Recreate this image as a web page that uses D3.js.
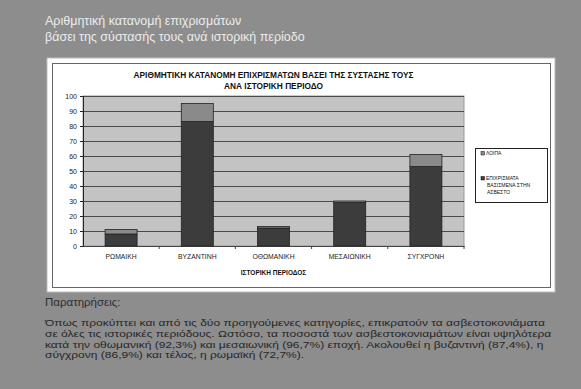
<!DOCTYPE html>
<html><head><meta charset="utf-8">
<script src="https://cdn.jsdelivr.net/npm/d3@7"></script>
<style>body{margin:0;background:#8d8d8d;}svg{display:block;}</style>
</head><body>
<svg id="c" width="581" height="389"></svg>
<script>
const categories = ["ΡΩΜΑΙΚΗ","ΒΥΖΑΝΤΙΝΗ","ΟΘΩΜΑΝΙΚΗ","ΜΕΣΑΙΩΝΙΚΗ","ΣΥΓΧΡΟΝΗ"];
const limeBased = [8, 83, 12, 29, 53];   // ΕΠΙΧΡΙΣΜΑΤΑ ΒΑΣΙΣΜΕΝΑ ΣΤΗΝ ΑΣΒΕΣΤΟ
const others    = [3, 12, 1, 1, 8];      // ΛΟΙΠΑ
const yTicks = [0,10,20,30,40,50,60,70,80,90,100];
const seriesNames = ["ΛΟΙΠΑ", "ΕΠΙΧΡΙΣΜΑΤΑ ΒΑΣΙΣΜΕΝΑ ΣΤΗΝ ΑΣΒΕΣΤΟ"];
const slideTitle = ["Αριθμητική κατανομή επιχρισμάτων","βάσει της σύστασής τους ανά ιστορική περίοδο"];
const chartTitle = ["ΑΡΙΘΜΗΤΙΚΗ ΚΑΤΑΝΟΜΗ ΕΠΙΧΡΙΣΜΑΤΩΝ ΒΑΣΕΙ ΤΗΣ ΣΥΣΤΑΣΗΣ ΤΟΥΣ","ΑΝΑ ΙΣΤΟΡΙΚΗ ΠΕΡΙΟΔΟ"];
const xTitle = "ΙΣΤΟΡΙΚΗ ΠΕΡΙΟΔΟΣ";
const notesTitle = "Παρατηρήσεις:";
const notes = [
 "Όπως προκύπτει και από τις δύο προηγούμενες κατηγορίες, επικρατούν τα ασβεστοκονιάματα",
 "σε όλες τις ιστορικές περιόδους. Ωστόσο, τα ποσοστά των ασβεστοκονιαμάτων είναι υψηλότερα",
 "κατά την οθωμανική (92,3%) και μεσαιωνική (96,7%) εποχή. Ακολουθεί η βυζαντινή (87,4%), η",
 "σύγχρονη (86,9%) και τέλος, η ρωμαϊκή (72,7%)."
];

const svg = d3.select("#c");
const F = "'Liberation Sans', Arial, sans-serif";

// slide title
svg.selectAll("text.st").data(slideTitle).join("text")
  .attr("x", 45).attr("y", (d,i)=>25+i*16)
  .attr("font-family", F).attr("font-size", 12.5).attr("fill", "#ececec")
  .text(d=>d);

// panel
svg.append("rect").attr("x",47).attr("y",58).attr("width",508).attr("height",234)
  .attr("fill","#fff").attr("stroke","#bbb").attr("stroke-width",1);
svg.append("rect").attr("x",52.5).attr("y",63.5).attr("width",498).attr("height",224)
  .attr("fill","none").attr("stroke","#666").attr("stroke-width",1);

const m = {l:83, r:464, t:96, b:246};
const x = d3.scaleBand().domain(categories).range([m.l, m.r]).paddingInner(0.58).paddingOuter(0.29);
const xb = d3.scaleBand().domain(categories).range([m.l, m.r]);
const y = d3.scaleLinear().domain([0,100]).range([m.b, m.t]);

// plot area
svg.append("rect").attr("x",m.l).attr("y",m.t).attr("width",m.r-m.l).attr("height",m.b-m.t)
  .attr("fill","#c3c3c3").attr("stroke","#999");

// gridlines
svg.append("g").selectAll("line").data(yTicks.filter(v=>v>0)).join("line")
  .attr("x1",m.l).attr("x2",m.r).attr("y1",d=>y(d)+0.5).attr("y2",d=>y(d)+0.5)
  .attr("stroke","#4a4a4a").attr("stroke-width",1.2);

// y axis
const ya = svg.append("g").attr("transform",`translate(${m.l},0)`)
  .call(d3.axisLeft(y).tickValues(yTicks).tickSize(3).tickPadding(3));
ya.select(".domain").attr("stroke","#222");
ya.selectAll("line").attr("stroke","#222");
ya.selectAll("text").attr("font-family",F).attr("font-size",7).attr("fill","#222");

// x axis
const xa = svg.append("g").attr("transform",`translate(0,${m.b})`)
  .call(d3.axisBottom(xb).tickSize(0).tickPadding(8));
xa.select(".domain").attr("stroke","#444");
xa.selectAll("text").attr("font-family",F).attr("font-size",6.8).attr("fill","#222");
svg.append("g").selectAll("line").data(categories).join("line")
  .attr("x1",d=>xb(d)+xb.bandwidth()).attr("x2",d=>xb(d)+xb.bandwidth())
  .attr("y1",m.b).attr("y2",m.b+3).attr("stroke","#444");

// bars
const g = svg.append("g");
g.selectAll("rect.a").data(categories).join("rect")
  .attr("x",d=>x(d)).attr("width",x.bandwidth())
  .attr("y",(d,i)=>y(limeBased[i])).attr("height",(d,i)=>y(0)-y(limeBased[i]))
  .attr("fill","#3c3c3c").attr("stroke","#222").attr("stroke-width",0.8);
g.selectAll("rect.b").data(categories).join("rect")
  .attr("x",d=>x(d)).attr("width",x.bandwidth())
  .attr("y",(d,i)=>y(limeBased[i]+others[i])).attr("height",(d,i)=>y(limeBased[i])-y(limeBased[i]+others[i]))
  .attr("fill","#8a8a8a").attr("stroke","#222").attr("stroke-width",0.8);

// chart title
svg.selectAll("text.ct").data(chartTitle).join("text")
  .attr("x",(m.l+m.r)/2).attr("y",(d,i)=>78+i*11).attr("text-anchor","middle")
  .attr("font-family",F).attr("font-size",8.3).attr("font-weight","bold").attr("fill","#111")
  .text(d=>d);

// x title
svg.append("text").attr("x",(m.l+m.r)/2).attr("y",275).attr("text-anchor","middle")
  .attr("font-family",F).attr("font-size",6.5).attr("font-weight","bold").attr("fill","#111")
  .text(xTitle);

// legend
const lg = svg.append("g");
lg.append("rect").attr("x",475.5).attr("y",148.5).attr("width",72).attr("height",54)
  .attr("fill","#fff").attr("stroke","#222");
const legendLines = [[seriesNames[0]], ["ΕΠΙΧΡΙΣΜΑΤΑ","ΒΑΣΙΣΜΕΝΑ ΣΤΗΝ","ΑΣΒΕΣΤΟ"]];
const legendColors = ["#8a8a8a","#3c3c3c"];
const ly = [155, 180];
legendLines.forEach((ls,i)=>{
  lg.append("rect").attr("x",481).attr("y",ly[i]-3.5).attr("width",3.5).attr("height",3.5)
    .attr("fill",legendColors[i]).attr("stroke","#111").attr("stroke-width",0.5);
  ls.forEach((t,j)=>{
    lg.append("text").attr("x",j===0?486:487).attr("y",ly[i]+j*7)
      .attr("font-family",F).attr("font-size",5).attr("fill","#111").text(t);
  });
});

// notes
svg.append("text").attr("x",45).attr("y",306).attr("font-family",F).attr("font-size",11.5)
  .attr("fill","#2e2e2e").text(notesTitle);
const ng = svg.append("g");
const nts = ng.selectAll("text.nt").data(notes).join("text")
  .attr("x",0).attr("y",(d,i)=>326+i*10.8)
  .attr("font-family",F).attr("font-size",8.6).attr("fill","#262626")
  .text(d=>d);
const w1 = nts.nodes()[0].getComputedTextLength();
const s = 500 / w1;
ng.attr("transform",`translate(45,0) scale(${s},1)`);
</script>
</body></html>
